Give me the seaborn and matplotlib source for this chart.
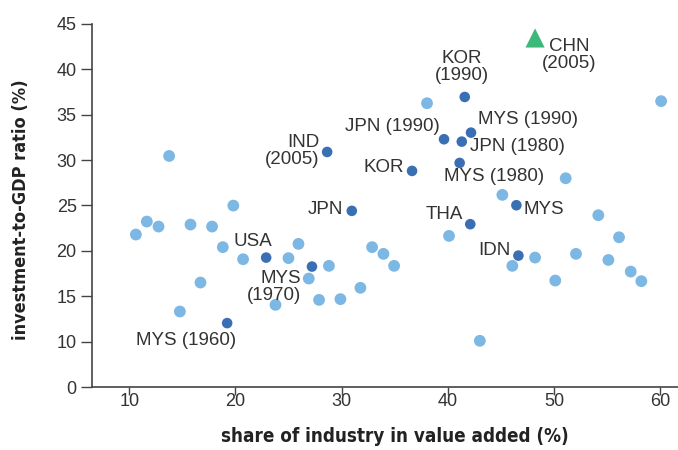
import matplotlib
matplotlib.use("Agg")
import matplotlib.pyplot as plt
from matplotlib import font_manager
import seaborn as sns
import pandas as pd

# ---------------- data ----------------
light_x = [13.76, 38.03, 60.06, 51.08, 45.12, 54.15, 56.1, 46.06, 48.2, 50.1,
           52.05, 55.1, 57.2, 58.2, 43.0, 40.1, 32.86, 33.93, 34.93, 31.76,
           29.88, 27.87, 28.8, 26.9, 25.93, 24.99, 20.72, 18.81, 16.71, 14.77,
           23.77, 10.63, 11.66, 12.76, 15.77, 17.8, 19.8]
light_y = [30.46, 36.27, 36.5, 28.0, 26.17, 23.93, 21.5, 18.35, 19.26, 16.73,
           19.67, 19.0, 17.72, 16.66, 10.09, 21.65, 20.41, 19.67, 18.35, 15.93,
           14.68, 14.6, 18.35, 16.95, 20.77, 19.2, 19.08, 20.41, 16.51, 13.32,
           14.05, 21.8, 23.23, 22.68, 22.9, 22.68, 24.99]

dark_labels = ["MYS (1960)", "USA", "MYS\n(1970)", "JPN", "IND\n(2005)", "KOR",
               "JPN (1990)", "JPN (1980)", "MYS (1990)", "KOR\n(1990)",
               "MYS (1980)", "THA", "MYS", "IDN"]
dark_x = [19.22, 22.89, 27.2, 30.95, 28.63, 36.62, 39.63, 41.3, 42.17, 41.58,
          41.1, 42.1, 46.44, 46.63]
dark_y = [12.04, 19.26, 18.27, 24.41, 30.9, 28.81, 32.3, 32.04, 33.03, 36.96,
          29.69, 22.94, 25.03, 19.48]

chn_labels = ["CHN\n(2005)"]
chn_x = [48.2]
chn_y = [43.46]

x_ticks = [10, 20, 30, 40, 50, 60]
y_ticks = [5, 10, 15, 20, 25, 30, 35, 40, 45]
y_tick_labels = ["0", "10", "15", "20", "25", "30", "35", "40", "45"]

x_label = "share of industry in value added (%)"
y_label = "investment-to-GDP ratio (%)"

# ---------------- style ----------------
LIGHT = "#7db7e3"
DARK = "#3b6fb4"
GREEN = "#3cb878"
TXT = "#333333"
AXC = "#444444"

# label placement (pixel offsets from point, horizontal alignment)
placement = {
    "MYS (1960)": (-41, -17.7, "center"),
    "USA": (-13.5, 16, "center"),
    "MYS\n(1970)": (-11, -20, "right"),
    "JPN": (-9, 1, "right"),
    "IND\n(2005)": (-8, 1, "right"),
    "KOR": (-8, 3.3, "right"),
    "JPN (1990)": (-4, 12.6, "right"),
    "JPN (1980)": (8.3, -5, "left"),
    "MYS (1990)": (6.7, 12.7, "left"),
    "KOR\n(1990)": (-2.7, 29.5, "center"),
    "MYS (1980)": (-15.4, -13.7, "left"),
    "THA": (-7, 9.3, "right"),
    "MYS": (7, -4.7, "left"),
    "IDN": (-8.3, 5, "right"),
    "CHN\n(2005)": (34, -17, "center"),
}

sns.set_theme(style="white")
plt.rcParams['font.family'] = ['Liberation Sans', 'DejaVu Sans']

ttf = font_manager.fontManager.ttflist
names = {f.name for f in ttf}
if "Liberation Sans Narrow" in names:
    xl_font = dict(family="Liberation Sans Narrow", weight="bold", size=16.5)
    yl_font = dict(family="Liberation Sans Narrow", weight="bold", size=16)
elif any(f.name == "DejaVu Sans" and f.stretch == "condensed" for f in ttf):
    xl_font = dict(family="DejaVu Sans", stretch="condensed", weight="bold", size=13.5)
    yl_font = dict(family="DejaVu Sans", stretch="condensed", weight="bold", size=13)
else:
    xl_font = dict(family="Liberation Sans", weight="bold", size=13.5)
    yl_font = dict(family="Liberation Sans", weight="bold", size=13)

fig = plt.figure(figsize=(6.78, 4.5), dpi=100)
ax = fig.add_axes([92 / 678, 63 / 450, 586 / 678, 363 / 450])

df_light = pd.DataFrame({"x": light_x, "y": light_y})
df_dark = pd.DataFrame({"x": dark_x, "y": dark_y, "label": dark_labels})
df_chn = pd.DataFrame({"x": chn_x, "y": chn_y, "label": chn_labels})

sns.scatterplot(data=df_light, x="x", y="y", ax=ax, color=LIGHT, s=72,
                edgecolor="none", linewidth=0, zorder=3)
sns.scatterplot(data=df_dark, x="x", y="y", ax=ax, color=DARK, s=58,
                edgecolor="none", linewidth=0, zorder=4)
sns.scatterplot(data=df_chn, x="x", y="y", ax=ax, color=GREEN, s=190, marker="^",
                edgecolor="none", linewidth=0, zorder=4, clip_on=False)

for df in (df_dark, df_chn):
    for _, r in df.iterrows():
        dx, dy, ha = placement[r["label"]]
        ax.annotate(r["label"], (r["x"], r["y"]), xytext=(dx, dy),
                    textcoords="offset pixels", ha=ha, va="center",
                    multialignment=ha,
                    fontsize=13.5, color=TXT, linespacing=1.0, zorder=5)

ax.set_xlim(6.5, 61.65)
ax.set_ylim(5, 45)
ax.set_xticks(x_ticks)
ax.set_xticklabels([str(t) for t in x_ticks])
ax.set_yticks(y_ticks)
ax.set_yticklabels(y_tick_labels)

for side in ("top", "right"):
    ax.spines[side].set_visible(False)
for side in ("left", "bottom"):
    ax.spines[side].set_color(AXC)
    ax.spines[side].set_linewidth(1.2)

ax.tick_params(axis="x", direction="out", length=6, width=1.0, color=AXC,
               labelsize=13, labelcolor=TXT, pad=-1.5, bottom=True)
ax.tick_params(axis="y", direction="out", length=8, width=1.0, color=AXC,
               labelsize=13, labelcolor=TXT, pad=3, left=True)

ax.set_xlabel(x_label, color="#222222", **xl_font)
ax.set_ylabel(y_label, color="#222222", **yl_font)
ax.xaxis.set_label_coords(0.516, -0.136)
ax.yaxis.set_label_coords(-0.121, 0.488)
ax.xaxis.label.set_va("center")
ax.yaxis.label.set_va("center")

fig.savefig("out.png", dpi=100)
